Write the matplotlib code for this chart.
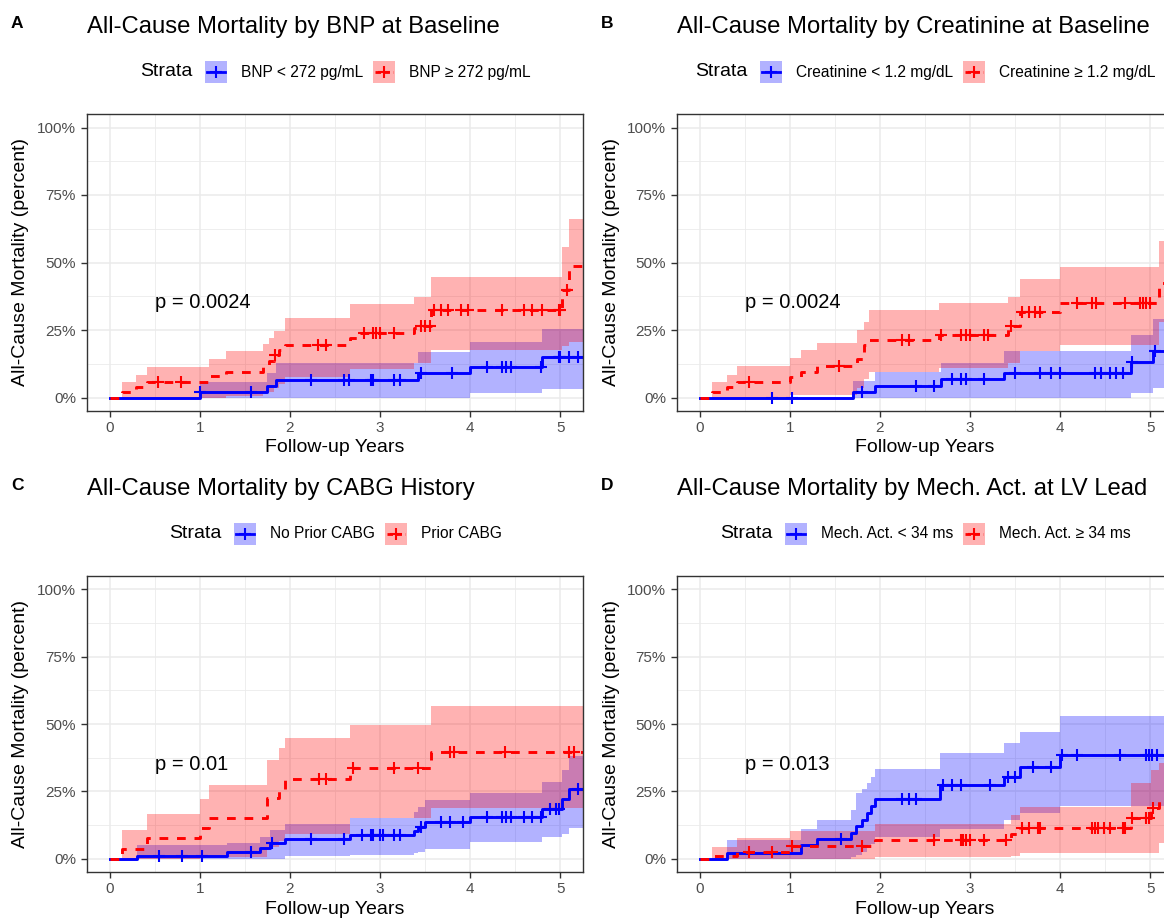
import numpy as np
import matplotlib
matplotlib.use("Agg")
import matplotlib.pyplot as plt
from matplotlib.patches import Rectangle
from matplotlib.lines import Line2D

plt.rcParams['font.family'] = ['Liberation Sans', 'DejaVu Sans']

# ---------------------------------------------------------------------------
# Data (percent mortality)
# each curve: step times, estimate, lower CI, upper CI, censor times
t_end = 5.3

# A - BNP
a_blue_t = [0, 1.00, 1.75, 1.85, 3.42, 4.00, 4.80]
a_blue_y = [0, 2.1, 4.2, 6.4, 8.9, 11.3, 15.0]
a_blue_lo = [0, 0, 0, 0, 0, 1.5, 3.3]
a_blue_hi = [0, 5.8, 8.9, 12.6, 16.9, 20.6, 25.2]
a_blue_cens = [1.00, 1.57, 2.23, 2.60, 2.65, 2.90, 2.92, 3.15, 3.22, 3.45, 3.80,
               4.18, 4.35, 4.40, 4.45, 4.78, 4.98, 5.00, 5.10, 5.20]
a_red_t = [0, 0.14, 0.29, 0.41, 1.10, 1.29, 1.70, 1.77, 1.82, 1.88, 1.95, 2.67,
           2.75, 3.38, 3.43, 3.56, 5.02, 5.10]
a_red_y = [0, 2.0, 3.9, 5.9, 7.8, 9.6, 11.5, 13.5, 15.6, 17.6, 19.6, 22.0,
           23.8, 25.6, 26.4, 32.3, 39.7, 48.8]
a_red_lo = [0, 0, 0, 0, 0, 0.5, 1.5, 2.0, 3.5, 5.0, 7.6, 10.7,
            10.7, 12.6, 12.6, 17.5, 19.0, 20.6]
a_red_hi = [0, 5.8, 8.5, 11.3, 14.4, 17.2, 20.0, 22.0, 24.6, 24.6, 29.6, 34.7,
            34.7, 37.2, 37.2, 44.6, 55.7, 66.1]
a_red_cens = [0.54, 0.79, 1.83, 2.31, 2.40, 2.82, 2.92, 2.95, 3.00, 3.15, 3.45,
              3.50, 3.55, 3.60, 3.68, 3.75, 3.90, 3.97, 4.35, 4.60, 4.68, 4.80,
              4.98, 5.00, 5.07]

# B - Creatinine
b_blue_t = [0, 1.70, 1.95, 2.68, 3.38, 4.78, 5.03]
b_blue_y = [0, 2.2, 4.4, 6.7, 8.9, 13.0, 17.3]
b_blue_lo = [0, 0, 0, 0, 0, 1.5, 3.5]
b_blue_hi = [0, 6.2, 9.5, 12.9, 17.2, 23.0, 29.0]
b_blue_cens = [0.80, 1.02, 1.80, 2.40, 2.60, 2.80, 2.90, 2.95, 3.15, 3.50, 3.78,
               3.90, 4.00, 4.38, 4.45, 4.55, 4.62, 4.70, 4.80, 5.05]
b_red_t = [0, 0.14, 0.30, 0.42, 1.00, 1.12, 1.30, 1.75, 1.82, 1.88, 2.65, 3.42,
           3.55, 4.00, 5.10]
b_red_y = [0, 2.0, 3.9, 5.8, 7.6, 9.5, 11.6, 14.4, 19.3, 21.4, 23.0, 26.4,
           31.7, 35.0, 42.4]
b_red_lo = [0, 0, 0, 0, 0.9, 0.9, 0.9, 3.5, 7.0, 9.6, 11.0, 12.9,
            17.2, 19.3, 28.0]
b_red_hi = [0, 5.8, 8.5, 11.6, 14.7, 17.7, 20.2, 24.9, 28.0, 32.3, 35.0, 37.4,
            44.0, 48.3, 58.0]
b_red_cens = [0.55, 1.55, 2.25, 2.32, 2.68, 2.90, 2.95, 3.00, 3.15, 3.20, 3.45,
              3.58, 3.65, 3.72, 3.78, 4.18, 4.35, 4.40, 4.72, 4.88, 4.92, 4.95,
              5.00]

# C - CABG
c_blue_t = [0, 0.30, 1.30, 1.67, 1.78, 1.95, 2.67, 3.38, 3.42, 3.50, 4.00, 4.80,
            5.02, 5.10]
c_blue_y = [0, 1.0, 2.5, 4.1, 5.6, 7.1, 8.7, 10.3, 11.8, 13.5, 15.5, 18.5,
            22.0, 25.7]
c_blue_lo = [0, 0, 0, 0, 0, 0.8, 1.2, 2.0, 2.5, 3.7, 6.2, 8.1, 9.3, 11.2]
c_blue_hi = [0, 5.0, 5.8, 8.1, 10.6, 12.8, 14.9, 17.4, 19.3, 21.8, 24.5, 28.4,
             33.0, 38.0]
c_blue_cens = [0.55, 0.80, 1.02, 1.57, 1.80, 2.23, 2.60, 2.80, 2.90, 2.92, 3.00,
               3.03, 3.15, 3.22, 3.45, 3.68, 3.78, 3.92, 4.18, 4.35, 4.40, 4.45,
               4.60, 4.68, 4.78, 4.88, 4.95, 4.98, 5.20]
c_red_t = [0, 0.14, 0.42, 1.00, 1.10, 1.75, 1.88, 1.95, 2.67, 3.56]
c_red_y = [0, 3.7, 7.5, 11.2, 14.9, 22.4, 26.0, 29.5, 33.5, 39.6]
c_red_lo = [0, 0, 0, 0.5, 0.5, 4.4, 6.5, 9.3, 14.9, 18.7]
c_red_hi = [0, 10.7, 16.7, 22.0, 27.4, 36.5, 41.0, 44.8, 49.5, 56.7]
c_red_cens = [2.32, 2.40, 2.70, 3.15, 3.42, 3.78, 3.82, 4.38, 5.10, 5.15]

# D - Mech. Act.
d_blue_t = [0, 0.30, 1.12, 1.30, 1.68, 1.74, 1.80, 1.86, 1.90, 1.95, 2.67, 3.38,
            3.55, 4.00]
d_blue_y = [0, 2.1, 5.0, 7.1, 9.6, 12.0, 14.5, 17.0, 19.5, 22.0, 27.3, 30.4,
            34.2, 38.3]
d_blue_lo = [0, 0, 0, 0, 0.5, 1.5, 2.5, 4.0, 5.5, 8.0, 11.0, 14.3, 16.8, 19.5]
d_blue_hi = [0, 6.8, 10.8, 14.5, 18.0, 24.5, 26.0, 28.0, 30.4, 33.2, 39.4, 42.9,
             47.2, 52.8]
d_blue_cens = [1.57, 2.25, 2.32, 2.40, 2.70, 2.80, 2.90, 3.22, 3.42, 3.50, 3.70,
               3.90, 4.02, 4.18, 4.66, 4.95, 4.98, 5.02, 5.07]
d_red_t = [0, 0.14, 0.42, 1.00, 1.95, 3.45, 3.55, 4.78, 5.01, 5.10]
d_red_y = [0, 1.0, 2.5, 4.8, 6.8, 9.0, 11.2, 14.9, 18.6, 22.4]
d_red_lo = [0, 0, 0, 0, 0.6, 1.0, 1.9, 2.1, 2.1, 5.9]
d_red_hi = [0, 4.3, 7.5, 10.3, 13.0, 16.1, 19.3, 28.0, 33.0, 35.4]
d_red_cens = [0.55, 0.80, 1.02, 1.80, 2.60, 2.90, 2.92, 2.95, 3.00, 3.15, 3.40,
              3.58, 3.65, 3.75, 3.78, 4.35, 4.38, 4.42, 4.48, 4.55, 4.70, 4.72,
              4.80, 4.95, 4.98, 5.03]

titles = ['All-Cause Mortality by BNP at Baseline',
          'All-Cause Mortality by Creatinine at Baseline',
          'All-Cause Mortality by CABG History',
          'All-Cause Mortality by Mech. Act. at LV Lead']
strata_labels = [('BNP < 272 pg/mL', 'BNP \u2265 272 pg/mL'),
                 ('Creatinine < 1.2 mg/dL', 'Creatinine \u2265 1.2 mg/dL'),
                 ('No Prior CABG', 'Prior CABG'),
                 ('Mech. Act. < 34 ms', 'Mech. Act. \u2265 34 ms')]
p_values = ['p = 0.0024', 'p = 0.0024', 'p = 0.01', 'p = 0.013']
panel_tags = ['A', 'B', 'C', 'D']

# ---------------------------------------------------------------------------
BLUE = '#0000FF'
RED = '#FF0000'
W, H = 1164, 919
fig = plt.figure(figsize=(W / 100, H / 100), dpi=100)
renderer = fig.canvas.get_renderer()


def fx(px):
    return px / W


def fy(py):
    return 1 - py / H


def draw_curve(ax, t, y, lo, hi, cens, color, ls):
    t = np.append(t, t_end)
    y = np.append(y, y[-1])
    lo = np.append(lo, lo[-1])
    hi = np.append(hi, hi[-1])
    ax.fill_between(t, lo, hi, step='post', color=color, alpha=0.3, lw=0)
    ax.step(t, y, where='post', color=color, lw=2.1, linestyle=ls)
    # censor marks sit on the step curve
    idx = np.searchsorted(t, cens, side='right') - 1
    ax.plot(cens, y[idx], '+', color=color, ms=8, mew=1.5, ls='none')


def draw_legend(ax, labels, ypx):
    bb = ax.get_position()
    center = (bb.x0 + bb.width / 2) * W
    t0 = fig.text(0, fy(ypx), 'Strata', fontsize=14, va='center')
    t1 = fig.text(0, fy(ypx), labels[0], fontsize=11.2, va='center')
    t2 = fig.text(0, fy(ypx), labels[1], fontsize=11.2, va='center')
    w0, w1, w2 = [t.get_window_extent(renderer).width for t in (t0, t1, t2)]
    key = 22
    total = w0 + 12 + key + 14 + w1 + 10 + key + 13 + w2
    x = center - total / 2
    t0.set_x(fx(x))
    x += w0 + 12
    for lab, w, color, ls in ((t1, w1, BLUE, '-'), (t2, w2, RED, (0, (2, 1.2)))):
        fig.add_artist(Rectangle((fx(x), fy(ypx + key / 2)), fx(key), key / H,
                                 transform=fig.transFigure, facecolor=color,
                                 alpha=0.3, lw=0))
        fig.add_artist(Line2D([fx(x + 2), fx(x + key - 2)], [fy(ypx), fy(ypx)],
                              transform=fig.transFigure, color=color, lw=2,
                              linestyle=ls))
        fig.add_artist(Line2D([fx(x + key / 2)], [fy(ypx)], transform=fig.transFigure,
                              marker='+', ms=9, mew=1.5, color=color))
        x += key + 14
        lab.set_x(fx(x))
        x += w + 10


boxes = [(87, 114, 297), (677, 114, 297), (87, 576, 296), (677, 576, 296)]
curves = [
    (a_blue_t, a_blue_y, a_blue_lo, a_blue_hi, a_blue_cens,
     a_red_t, a_red_y, a_red_lo, a_red_hi, a_red_cens),
    (b_blue_t, b_blue_y, b_blue_lo, b_blue_hi, b_blue_cens,
     b_red_t, b_red_y, b_red_lo, b_red_hi, b_red_cens),
    (c_blue_t, c_blue_y, c_blue_lo, c_blue_hi, c_blue_cens,
     c_red_t, c_red_y, c_red_lo, c_red_hi, c_red_cens),
    (d_blue_t, d_blue_y, d_blue_lo, d_blue_hi, d_blue_cens,
     d_red_t, d_red_y, d_red_lo, d_red_hi, d_red_cens),
]

for i, (left, top, height) in enumerate(boxes):
    ax = fig.add_axes([fx(left), fy(top + height), 496 / W, height / H])
    c = curves[i]
    draw_curve(ax, *c[:5], BLUE, '-')
    draw_curve(ax, *c[5:], RED, (0, (3, 3)))

    ax.set_xlim(-0.25, 5.25)
    ax.set_ylim(-5, 105)
    ax.set_xticks(range(6))
    ax.set_xticks(np.arange(0.5, 5.5, 1), minor=True)
    ax.set_yticks([0, 25, 50, 75, 100])
    ax.set_yticklabels(['0%', '25%', '50%', '75%', '100%'])
    ax.set_yticks([12.5, 37.5, 62.5, 87.5], minor=True)
    ax.grid(True, which='major', color='#EBEBEB', lw=1.1)
    ax.grid(True, which='minor', color='#EBEBEB', lw=0.6)
    ax.set_axisbelow(True)
    ax.tick_params(which='major', length=4, width=1, color='#333333',
                   labelcolor='#4D4D4D', labelsize=11)
    ax.tick_params(axis='x', pad=3)
    ax.tick_params(axis='y', pad=4)
    ax.tick_params(which='minor', length=0)
    for s in ax.spines.values():
        s.set_color('#333333')
        s.set_linewidth(1.0)

    ax.set_xlabel('Follow-up Years', fontsize=14, va='center')
    ax.xaxis.set_label_coords(0.5, -37 / height)
    ax.set_ylabel('All-Cause Mortality (percent)', fontsize=14, va='center')
    ax.yaxis.set_label_coords(-66 / 496, 0.5)

    ax.text(0.5, 35, p_values[i], fontsize=14.5, va='center', ha='left')

    fig.text(fx(left), fy(top - 87), titles[i], fontsize=17.2, va='center', ha='left')
    fig.text(fx(left - 70), fy(top - 91), panel_tags[i], fontsize=12.5,
             fontweight='bold', va='center', ha='center')
    draw_legend(ax, strata_labels[i], top - 42)

fig.savefig('out.png', dpi=100)
